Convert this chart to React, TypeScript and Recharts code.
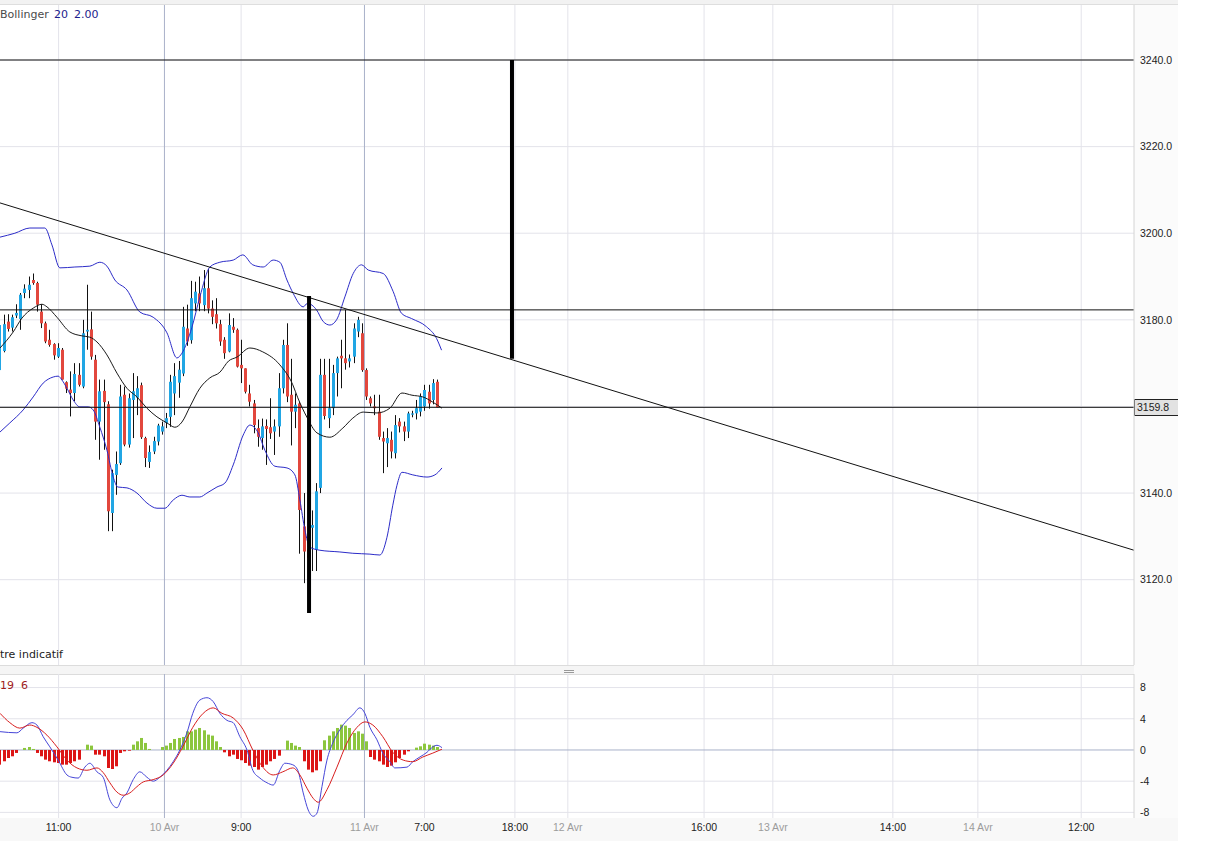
import React from "react";
import {
  ComposedChart,
  Bar,
  Line,
  XAxis,
  YAxis,
  CartesianGrid,
  ReferenceLine,
} from "recharts";

const FONT = '"Liberation Sans", Arial, sans-serif';
const LABEL_FONT = '"DejaVu Sans", Verdana, sans-serif';
const UP = "#21a6e4";
const DOWN = "#e2473d";
const BAND = "#2c2cc8";
const HIST_UP = "#8cc63e";
const HIST_DOWN = "#dc1515";

// 30 min bars, index -1 is the one cut by the left edge
const bars = Array.from({ length: 106 }, (_, i) => i - 1);

const opens = [
  3168.4, 3172.8, 3179.6, 3178.2, 3181.0, 3180.2, 3186.2, 3186.9, 3189.2, 3188.5,
  3181.9, 3179.2, 3175.4, 3174.4, 3171.5, 3173.1, 3165.6, 3163.9, 3163.1, 3167.3,
  3164.6, 3177.3, 3177.8, 3170.8, 3156.5, 3163.6, 3160.5, 3135.4, 3144.2, 3146.9,
  3162.7, 3151.2, 3161.5, 3162.0, 3164.9, 3152.7, 3147.2, 3149.6, 3151.9, 3154.2,
  3156.2, 3157.6, 3163.0, 3165.5, 3167.6, 3178.0, 3175.3, 3183.8, 3186.1, 3183.4,
  3187.3, 3182.6, 3181.3, 3179.0, 3175.4, 3172.7, 3178.4, 3177.7, 3169.6, 3168.8,
  3163.0, 3160.7, 3155.0, 3152.7, 3155.5, 3155.2, 3154.2, 3155.4, 3164.2, 3174.2,
  3162.7, 3158.8, 3160.7, 3132.3, 3127.0, 3132.0, 3126.9, 3141.2, 3167.3, 3157.3,
  3159.6, 3167.7, 3171.7, 3171.1, 3170.4, 3171.5, 3177.3, 3176.9, 3168.4, 3161.9,
  3160.0, 3158.8, 3152.7, 3151.5, 3152.3, 3149.2, 3156.5, 3155.4, 3154.2, 3158.1,
  3158.4, 3158.8, 3160.0, 3163.4, 3161.5, 3165.7,
];
const highs = [
  3179.5, 3181.2, 3181.3, 3181.2, 3183.6, 3186.2, 3188.2, 3190.0, 3190.7, 3188.8,
  3183.6, 3179.6, 3177.7, 3174.6, 3174.6, 3173.5, 3165.8, 3168.1, 3170.0, 3170.0,
  3180.0, 3188.1, 3181.9, 3171.9, 3166.2, 3166.2, 3161.2, 3145.4, 3149.6, 3165.0,
  3164.6, 3163.0, 3167.7, 3167.0, 3165.5, 3153.0, 3151.0, 3153.0, 3156.0, 3156.5,
  3158.5, 3167.3, 3170.0, 3170.5, 3183.0, 3183.5, 3189.0, 3188.8, 3190.0, 3191.5,
  3191.8, 3184.5, 3185.0, 3180.0, 3176.0, 3181.5, 3180.4, 3178.0, 3175.4, 3168.8,
  3165.0, 3161.5, 3157.0, 3157.2, 3157.0, 3161.9, 3157.0, 3167.7, 3175.4, 3179.2,
  3171.0, 3163.0, 3161.1, 3140.0, 3133.0, 3136.0, 3142.3, 3171.0, 3171.0, 3171.0,
  3169.6, 3171.5, 3175.4, 3182.3, 3172.0, 3179.2, 3180.7, 3179.2, 3168.8, 3162.3,
  3162.7, 3162.7, 3154.2, 3155.0, 3154.2, 3158.0, 3157.3, 3156.5, 3158.8, 3159.0,
  3161.5, 3163.0, 3165.0, 3165.0, 3166.3, 3166.2,
];
const lows = [
  3166.5, 3172.5, 3177.3, 3177.3, 3180.4, 3177.7, 3185.0, 3185.0, 3188.1, 3181.9,
  3178.1, 3174.6, 3173.8, 3170.8, 3171.2, 3166.2, 3163.1, 3157.7, 3161.2, 3164.6,
  3164.2, 3173.1, 3170.8, 3152.3, 3147.7, 3150.0, 3131.2, 3131.2, 3139.6, 3146.5,
  3150.8, 3150.5, 3152.7, 3158.0, 3152.5, 3146.0, 3145.8, 3149.0, 3151.0, 3153.5,
  3155.0, 3155.3, 3158.0, 3162.0, 3167.0, 3174.0, 3174.5, 3182.0, 3182.0, 3182.0,
  3181.5, 3179.0, 3178.0, 3174.0, 3171.0, 3172.5, 3177.0, 3169.0, 3165.4, 3163.0,
  3160.0, 3153.8, 3150.7, 3150.0, 3146.5, 3152.5, 3148.8, 3153.0, 3163.0, 3161.0,
  3151.0, 3155.0, 3126.0, 3119.2, 3118.5, 3122.0, 3122.0, 3140.0, 3157.0, 3155.0,
  3158.0, 3162.3, 3164.2, 3168.5, 3169.0, 3170.0, 3176.0, 3168.0, 3161.5, 3160.0,
  3158.0, 3152.3, 3144.6, 3146.0, 3148.0, 3148.0, 3154.0, 3152.0, 3152.7, 3157.5,
  3157.0, 3157.7, 3159.0, 3159.5, 3160.5, 3159.8,
];
const closes = [
  3178.8, 3179.0, 3177.9, 3180.6, 3181.6, 3185.8, 3187.2, 3188.1, 3188.5, 3183.5,
  3179.2, 3175.0, 3174.2, 3171.8, 3173.5, 3166.2, 3164.1, 3163.1, 3167.5, 3165.0,
  3176.9, 3177.7, 3171.5, 3156.5, 3163.5, 3161.0, 3135.8, 3144.6, 3146.7, 3162.3,
  3151.2, 3161.9, 3163.5, 3164.2, 3152.9, 3148.1, 3149.5, 3152.0, 3155.6, 3155.4,
  3157.3, 3165.7, 3167.0, 3168.5, 3178.4, 3175.0, 3185.0, 3186.5, 3183.8, 3187.3,
  3182.6, 3180.7, 3179.2, 3175.0, 3172.3, 3178.8, 3177.7, 3169.2, 3168.8, 3163.4,
  3161.1, 3155.7, 3153.0, 3155.4, 3154.8, 3153.8, 3155.4, 3164.2, 3174.2, 3162.3,
  3158.8, 3160.4, 3136.1, 3126.5, 3125.0, 3132.6, 3140.4, 3167.3, 3157.8, 3159.6,
  3167.7, 3171.1, 3171.1, 3170.0, 3171.1, 3178.0, 3180.0, 3168.4, 3162.3, 3160.7,
  3159.6, 3153.0, 3151.9, 3152.7, 3149.6, 3155.7, 3155.4, 3154.2, 3158.4, 3158.4,
  3159.6, 3162.3, 3163.8, 3160.7, 3165.4, 3159.8,
];

// Bollinger 20 2.00: [bar, price]
const upperBand: [number, number][] = [
  [-0.86, 3199.1], [2.7, 3200.0], [6.3, 3201.2], [9.9, 3201.2], [11.6, 3197.3],
  [13.5, 3192.0], [17.1, 3192.2], [20.7, 3192.4], [23.1, 3193.3], [24.8, 3192.4],
  [26.7, 3189.2], [29.6, 3186.9], [32.7, 3181.8], [35.9, 3180.6], [39.2, 3177.0],
  [41.6, 3171.2], [42.8, 3172.3], [45.2, 3178.3], [47.1, 3185.3], [49.5, 3192.2],
  [51.9, 3193.3], [55.1, 3193.8], [57.4, 3195.0], [59.8, 3192.7], [62.3, 3192.2],
  [64.7, 3193.8], [66.3, 3193.3], [68.0, 3189.2], [69.5, 3186.1], [71.9, 3183.0],
  [72.9, 3183.8], [75.1, 3182.3], [76.7, 3179.6], [78.3, 3178.8], [79.9, 3180.0],
  [81.9, 3185.3], [83.9, 3190.7], [85.9, 3192.7], [87.5, 3191.5], [91.1, 3190.7],
  [93.5, 3186.5], [95.5, 3181.5], [97.9, 3180.3], [101.5, 3178.4], [103.9, 3175.7],
  [105.1, 3173.0],
];
const midBand: [number, number][] = [
  [-0.86, 3173.5], [2.3, 3177.2], [4.4, 3180.4], [7.1, 3182.7], [9.2, 3183.6],
  [10.4, 3183.0], [12.8, 3180.6], [15.9, 3177.2], [18.8, 3176.3], [20.7, 3176.0],
  [22.4, 3174.9], [24.8, 3171.9], [27.2, 3167.7], [29.6, 3164.2], [32.0, 3162.2],
  [34.4, 3159.6], [36.8, 3157.6], [39.2, 3156.2], [41.1, 3155.2], [42.8, 3156.4],
  [44.7, 3159.9], [47.1, 3164.2], [49.5, 3166.6], [51.9, 3167.9], [54.0, 3170.5],
  [56.0, 3171.4], [59.1, 3173.5], [62.2, 3172.6], [66.3, 3169.6], [69.4, 3165.0],
  [70.6, 3162.0], [72.8, 3157.5], [75.2, 3153.9], [78.3, 3152.9], [81.4, 3155.0],
  [83.8, 3157.3], [86.3, 3158.7], [89.6, 3158.5], [92.7, 3159.6], [95.6, 3163.1],
  [98.0, 3162.6], [100.6, 3162.2], [103.0, 3161.0], [105.2, 3159.6],
];
const lowerBand: [number, number][] = [
  [-0.86, 3154.1], [1.5, 3156.2], [4.7, 3159.2], [7.1, 3162.2], [9.5, 3165.4],
  [11.9, 3166.8], [13.1, 3167.0], [14.0, 3166.1], [15.2, 3164.2], [16.7, 3161.5],
  [18.3, 3159.9], [20.3, 3159.9], [21.5, 3159.2], [23.1, 3155.2], [24.8, 3149.9],
  [26.3, 3143.7], [27.4, 3141.4], [29.6, 3141.2], [32.0, 3140.0], [34.4, 3137.7],
  [36.8, 3136.5], [38.7, 3136.5], [40.7, 3138.4], [42.8, 3139.5], [44.7, 3139.1],
  [47.1, 3139.1], [48.8, 3140.0], [51.2, 3141.4], [53.1, 3142.3], [55.1, 3146.5],
  [57.5, 3153.4], [59.1, 3155.7], [61.1, 3153.9], [62.7, 3149.9], [65.1, 3146.2],
  [68.0, 3145.8], [69.9, 3144.2], [71.1, 3138.4], [72.3, 3131.5], [73.5, 3127.5],
  [75.9, 3126.8], [80.7, 3126.4], [83.8, 3126.1], [87.9, 3125.9], [90.3, 3125.7],
  [92.0, 3129.8], [93.4, 3137.2], [94.4, 3141.8], [95.6, 3144.8], [98.2, 3144.2],
  [101.6, 3143.7], [103.5, 3144.2], [105.2, 3145.8],
];

// MACD pane
const macdHist = [
  -1.88, -1.45, -1.03, -0.81, -0.38, 0.04, 0.26, 0.38, 0.13, -0.38,
  -0.81, -1.24, -1.45, -1.58, -1.67, -1.88, -1.88, -1.67, -1.45, -1.24,
  -0.05, 0.68, 0.56, -0.6, -0.6, -0.81, -2.31, -2.44, -2.09, -0.38,
  -0.17, -0.09, 0.68, 1.11, 1.54, 0.9, 0.13, 0.02, 0.04, 0.38,
  0.56, 0.9, 1.41, 1.54, 1.67, 2.39, 2.39, 2.61, 2.82, 2.52,
  1.97, 1.84, 1.11, 0.38, -0.3, -0.81, -0.6, -1.15, -1.32, -1.67,
  -2.01, -2.18, -2.52, -2.18, -1.88, -1.45, -1.15, -0.73, -0.05, 1.2,
  0.9, 0.56, 0.38, -1.45, -2.52, -2.86, -2.61, -1.45, 1.24, 1.84,
  2.39, 2.82, 3.25, 3.12, 2.82, 2.18, 2.39, 2.09, 1.11, -0.9,
  -1.24, -1.45, -1.88, -2.18, -2.01, -1.58, -1.03, -0.6, -0.17, 0.04,
  0.3, 0.47, 0.81, 0.68, 0.56, 0.38,
];
const macdLine: [number, number][] = [
  [-0.86, 2.35], [3.2, 2.2], [4.7, 2.8], [6.8, 3.5], [8.0, 3.2], [9.5, 1.7],
  [11.1, 0.4], [13.1, -1.3], [15.2, -3.2], [16.4, -3.5], [17.9, -3.6], [19.5, -2.2],
  [20.7, -1.7], [22.4, -2.8], [23.9, -3.5], [25.5, -6.4], [27.2, -7.4], [28.4, -6.2],
  [29.6, -5.5], [31.1, -3.8], [32.7, -2.8], [34.4, -3.5], [35.9, -4.0], [37.5, -3.5],
  [39.2, -2.6], [40.7, -1.5], [42.3, 0], [44.0, 2.2], [45.4, 4.7], [47.1, 6.4],
  [48.8, 6.7], [50.3, 6.2], [51.9, 4.7], [53.6, 3.8], [55.1, 3.5], [56.7, 1.7],
  [58.4, 0], [59.8, -2.6], [61.5, -3.6], [63.2, -4.2], [64.7, -4.5], [66.3, -2.6],
  [67.5, -1.7], [69.4, -1.9], [70.6, -2.6], [71.9, -5.5], [73.1, -7.7], [74.3, -8.5],
  [75.2, -8.1], [76.4, -4.7], [77.6, -1.3], [79.0, 0.9], [80.7, 2.6], [82.4, 3.8],
  [83.8, 4.5], [85.5, 5.4], [86.7, 4.7], [87.9, 2.9], [89.6, 1.3], [91.0, -0.4],
  [92.7, -1.5], [93.9, -2.3], [96.8, -2.2], [98.2, -1.5], [99.9, -0.9], [101.6, -0.3],
  [103.0, 0.4], [104.0, 0.6], [105.2, 0.3],
];
const signalLine: [number, number][] = [
  [-0.86, 4.7], [1.5, 3.5], [3.9, 2.8], [6.3, 3.2], [8.0, 2.9], [10.4, 1.9],
  [12.8, 0.4], [15.2, -1.3], [17.6, -2.3], [20.0, -2.6], [22.4, -2.3], [23.9, -2.9],
  [25.5, -4.2], [27.2, -5.4], [28.7, -5.8], [30.3, -5.5], [32.0, -4.7], [33.5, -4.1],
  [35.9, -3.8], [38.3, -3.2], [40.7, -1.7], [43.0, 0.4], [45.4, 2.9], [47.9, 4.7],
  [50.3, 5.4], [52.4, 4.7], [55.1, 4.1], [57.5, 2.6], [59.8, 0], [62.2, -2.2],
  [64.7, -3.2], [67.0, -2.8], [69.4, -2.3], [71.1, -3.2], [72.8, -4.9], [74.3, -6.2],
  [75.5, -6.7], [77.6, -5.1], [80.0, -2.2], [82.4, 0.9], [84.8, 2.9], [86.7, 3.6],
  [88.6, 3.2], [91.0, 1.7], [93.4, -0.3], [95.9, -1.3], [98.2, -1.5], [100.6, -0.9],
  [103.0, -0.4], [105.2, 0.1],
];

// drawings on the price pane
const levels = [3240, 3182.3];
const trendLine: [number, number][] = [[-0.864, 3207.0], [271.27, 3126.8]];
const targets = [
  { at: 73.3, from: 3185.5, to: 3112.3 },
  { at: 122.0, from: 3240, to: 3171.0 },
];

const priceTicks = [3120, 3140, 3180, 3200, 3220, 3240];
const priceGrid = [3120, 3140, 3160, 3180, 3200, 3220, 3240];
const macdTicks = [-8, -4, 0, 4, 8];
const timeTicks = [13.2, 38.6, 57.0, 86.6, 101.0, 122.7, 135.4, 168.1, 184.6, 213.4, 233.8, 258.6];
const timeLabels = ["11:00", "10 Avr", "9:00", "11 Avr", "7:00", "18:00", "12 Avr", "16:00", "13 Avr", "14:00", "14 Avr", "12:00"];
const sessionLabels = ["10 Avr", "11 Avr"];

const X_DOMAIN: [number, number] = [-0.864, 271.27];

const candles = bars.map((k, i) => ({
  k,
  open: opens[i],
  high: highs[i],
  low: lows[i],
  close: closes[i],
  range: [lows[i], highs[i]],
}));
const histRows = bars.map((k, i) => ({ k, hist: macdHist[i] }));
const toPts = (arr: [number, number][]) => arr.map(([k, v]) => ({ k, v }));

const sessionTicks = timeTicks.filter((_, i) => sessionLabels.includes(timeLabels[i]));
const plainTicks = timeTicks.filter((_, i) => !sessionLabels.includes(timeLabels[i]));

const Candle = (props: any) => {
  const { x, y, width, height, payload } = props;
  if (x == null || y == null || !payload) return null;
  const { open, close, high, low } = payload;
  const top = Math.min(y, y + height);
  const span = Math.abs(height);
  const per = high === low ? 0 : span / (high - low);
  const cx = Math.round(x + width / 2);
  const yo = top + (high - open) * per;
  const yc = top + (high - close) * per;
  const bodyTop = Math.min(yo, yc);
  const bodyH = Math.max(1, Math.abs(yo - yc));
  return (
    <g>
      <line x1={cx + 0.5} x2={cx + 0.5} y1={top} y2={top + span} stroke="#111" strokeWidth={1} />
      <rect x={cx - 1} y={bodyTop} width={3} height={bodyH} fill={close >= open ? UP : DOWN} />
    </g>
  );
};

const HistBar = (props: any) => {
  const { x, y, width, height, payload } = props;
  if (x == null || y == null || !payload) return null;
  const top = Math.min(y, y + height);
  const h = Math.abs(height);
  if (h < 0.5) return null;
  const cx = Math.round(x + width / 2);
  return <rect x={cx - 1} y={top} width={3} height={h} fill={payload.hist >= 0 ? HIST_UP : HIST_DOWN} />;
};

const PriceTag = (props: any) => {
  const vb = props.viewBox || {};
  const x = vb.x + vb.width;
  const y = Math.round(vb.y);
  return (
    <g>
      <rect x={x} y={y - 8} width={44} height={16} fill="#e2e2e2" />
      <path d={`M${x + 44},${y - 7.5}H${x + 0.5}V${y + 8.5}H${x + 44}`} fill="none" stroke="#222" />
      <text x={x + 3} y={y + 4} fontSize={10.5} fill="#222" fontFamily={FONT}>
        {props.text}
      </text>
    </g>
  );
};

const TimeTick = (props: any) => {
  const { x, y, payload } = props;
  const label = timeLabels[timeTicks.indexOf(payload.value)];
  const isDate = label && label.includes("Avr");
  return (
    <text x={x} y={y + 11} textAnchor="middle" fontSize={10.5} fontFamily={FONT} fill={isDate ? "#9c9c9c" : "#222"}>
      {label}
    </text>
  );
};

const axisTick = { fontSize: 10.5, fill: "#222", fontFamily: FONT };

function PriceChart() {
  const last = closes[closes.length - 1];
  return (
    <ComposedChart width={1178} height={670} data={candles} margin={{ top: 5, right: 0, bottom: 5, left: 0 }}>
      <XAxis dataKey="k" type="number" domain={X_DOMAIN} allowDataOverflow hide ticks={timeTicks} interval={0} />
      <YAxis
        orientation="right"
        type="number"
        domain={[3100.3, 3252.7]}
        allowDataOverflow
        ticks={priceTicks}
        interval={0}
        width={44}
        tickSize={0}
        tickMargin={6}
        tick={axisTick}
        tickFormatter={(v: number) => v.toFixed(1)}
        axisLine={{ stroke: "#d4d4d4" }}
      />
      <CartesianGrid stroke="#e3e3ea" verticalValues={plainTicks} horizontalValues={priceGrid} />
      <CartesianGrid stroke="#a9b1c9" horizontal={false} verticalValues={sessionTicks} />
      <Bar dataKey="range" shape={Candle} barSize={3} isAnimationActive={false} />
      <Line data={toPts(upperBand)} dataKey="v" type="monotone" stroke={BAND} strokeWidth={1} dot={false} isAnimationActive={false} />
      <Line data={toPts(lowerBand)} dataKey="v" type="monotone" stroke={BAND} strokeWidth={1} dot={false} isAnimationActive={false} />
      <Line data={toPts(midBand)} dataKey="v" type="monotone" stroke="#1a1a1a" strokeWidth={1} dot={false} isAnimationActive={false} />
      {levels.map((lv) => (
        <ReferenceLine key={lv} y={lv} stroke="#111" strokeWidth={1} />
      ))}
      <ReferenceLine y={last} stroke="#111" strokeWidth={1} label={<PriceTag text={last.toFixed(1)} />} />
      <ReferenceLine
        segment={[{ x: trendLine[0][0], y: trendLine[0][1] }, { x: trendLine[1][0], y: trendLine[1][1] }]}
        stroke="#111"
        strokeWidth={1}
        ifOverflow="hidden"
      />
      {targets.map((t) => (
        <ReferenceLine
          key={t.at}
          segment={[{ x: t.at, y: t.from }, { x: t.at, y: t.to }]}
          stroke="#000"
          strokeWidth={4}
          ifOverflow="visible"
        />
      ))}
    </ComposedChart>
  );
}

function MacdChart() {
  return (
    <ComposedChart width={1178} height={171} data={histRows} margin={{ top: 4, right: 0, bottom: 0, left: 0 }}>
      <XAxis
        dataKey="k"
        type="number"
        domain={X_DOMAIN}
        allowDataOverflow
        ticks={timeTicks}
        interval={0}
        height={23}
        tickSize={0}
        axisLine={false}
        tick={<TimeTick />}
      />
      <YAxis
        orientation="right"
        type="number"
        domain={[-8.72, 9.74]}
        allowDataOverflow
        ticks={macdTicks}
        interval={0}
        width={44}
        tickSize={0}
        tickMargin={6}
        tick={axisTick}
        axisLine={{ stroke: "#d4d4d4" }}
      />
      <CartesianGrid stroke="#e3e3ea" verticalValues={plainTicks} horizontalValues={[-8, -4, 4, 8]} />
      <CartesianGrid stroke="#a9b1c9" verticalValues={sessionTicks} horizontalValues={[0]} />
      <Bar dataKey="hist" shape={HistBar} barSize={3} isAnimationActive={false} />
      <Line data={toPts(macdLine)} dataKey="v" type="monotone" stroke="#4646d8" strokeWidth={1} dot={false} isAnimationActive={false} />
      <Line data={toPts(signalLine)} dataKey="v" type="monotone" stroke="#d81e1e" strokeWidth={1} dot={false} isAnimationActive={false} />
    </ComposedChart>
  );
}

const overlay = (left: number, top: number, color: string): React.CSSProperties => ({
  position: "absolute",
  left,
  top,
  fontSize: 11,
  lineHeight: 1,
  fontFamily: LABEL_FONT,
  color,
  whiteSpace: "pre",
});

export default function App() {
  return (
    <div
      style={{
        position: "absolute",
        left: 0,
        top: 0,
        width: 1217,
        height: 841,
        background: "#fff",
        overflow: "hidden",
        fontFamily: FONT,
      }}
    >
      <div style={{ position: "absolute", left: 1134, top: 0, width: 44, height: 841, background: "#fbfbfb" }} />
      <div style={{ position: "absolute", left: 0, top: 818, width: 1178, height: 23, background: "#f8f8f8" }} />
      <div style={{ position: "absolute", left: 0, top: 0, width: 1178, height: 4, background: "#f2f2f2", borderBottom: "1px solid #dedede" }} />
      <div style={{ position: "absolute", left: 0, top: 665, width: 1134, height: 8, background: "#f5f5f5", borderTop: "1px solid #dcdcdc", borderBottom: "1px solid #dcdcdc" }} />
      <div style={{ position: "absolute", left: 564, top: 670, width: 10, height: 3, borderTop: "1px solid #999", borderBottom: "1px solid #999", boxSizing: "border-box" }} />
      <div style={{ position: "absolute", left: 0, top: 0 }}>
        <PriceChart />
      </div>
      <div style={{ position: "absolute", left: 0, top: 670 }}>
        <MacdChart />
      </div>
      <div style={overlay(0, 9, "#4a4a4a")}>Bollinger</div>
      <div style={overlay(54, 9, "#1c1c8c")}>20</div>
      <div style={overlay(74, 9, "#1c1c8c")}>2.00</div>
      <div style={overlay(0, 649, "#222")}>tre indicatif</div>
      <div style={overlay(0, 680, "#a01c1c")}>19  6</div>
    </div>
  );
}
